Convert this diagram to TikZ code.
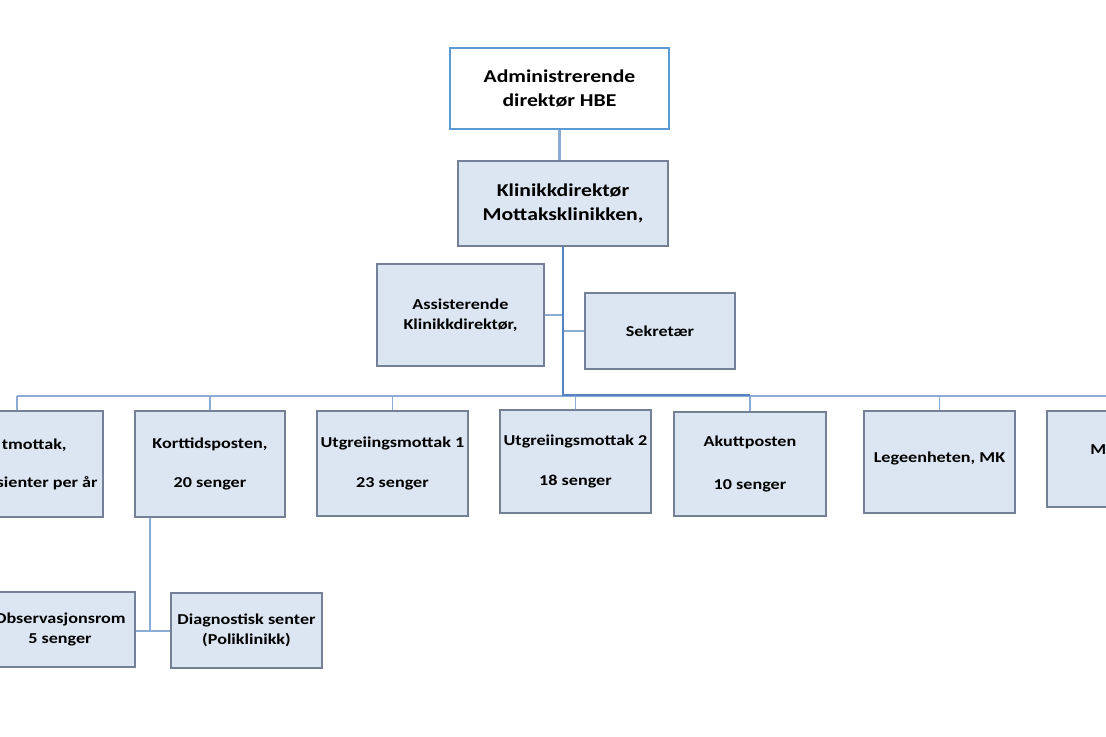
\documentclass[tikz,border=0pt]{standalone}
\usepackage{fontspec}
\usepackage{xcolor}
\usepackage{tikz}
\newfontfamily\orgfont{Carlito}[FakeStretch=1.2]
\newcommand\orgbig{\orgfont\bfseries\fontsize{10.3}{14}\selectfont}
\newcommand\orgsmall{\orgfont\bfseries\fontsize{8.6}{11.3}\selectfont}
\definecolor{boxfill}{RGB}{220,230,242}
\definecolor{boxline}{RGB}{115,128,150}
\definecolor{topline}{RGB}{91,155,213}
\definecolor{linkdark}{RGB}{84,132,196}
\definecolor{linklight}{RGB}{140,172,214}

\begin{document}
\begin{tikzpicture}[x=0.02cm,y=-0.02cm,
    unit/.style 2 args={draw=boxline,fill=boxfill,line width=0.8pt,inner sep=0pt,
      minimum width=#1*0.02cm,minimum height=#2*0.02cm,align=center,font=\orgsmall},
    head/.style={unit={#1}{85},font=\orgbig},
    txt/.style={inner sep=0pt,font=\orgsmall},
    linkthin/.style={draw=linklight,line width=0.8pt},
    linkthick/.style={draw=linkdark,line width=1.6pt},
    linksoft/.style={draw=linklight,line width=1.6pt}]
        \useasboundingbox (0,0) rectangle (1106,737);
        \fill[white] (0,0) rectangle (1106,737);
        \clip (0,0) rectangle (1106,737);
        \node[unit={219}{81},draw=topline,fill=white,line width=1.7pt,font=\orgbig]
          (admin) at (559.5,88.5) {Administrerende\\direktør HBE};
        \node[head=210] (klinikk) at (563,203.5) {Klinikkdirektør\\Mottaksklinikken,};
        \node[unit={167}{102}] (assist) at (460.5,315) {Assisterende\\Klinikkdirektør,};
        \node[unit={150}{76}] (sekr) at (660,331) {Sekretær};
        \node[unit={172}{106}] (akm) at (17,464) {};
        \node[txt,anchor=east] (akmtop) at (67,445) {tmottak,};
        \node[txt,anchor=east] (akmbot) at (98,483) {asienter per år};
        \node[unit={150}{106}] (kort) at (210,464) {Korttidsposten,\\[11pt]20 senger};
        \node[unit={151}{105}] (utg1) at (392.5,463.5) {Utgreiingsmottak 1\\[11pt]23 senger};
        \node[unit={151}{103}] (utg2) at (575.5,461.5) {Utgreiingsmottak 2\\[11pt]18 senger};
        \node[unit={152}{104}] (akutt) at (750,464) {Akuttposten\\[13pt]10 senger};
        \node[unit={151}{102}] (lege) at (939.5,462) {\raisebox{0.2cm}{Legeenheten, MK}};
        \node[unit={151}{96}] (med) at (1122.5,459) {};
        \node[txt,anchor=west] (medtxt) at (1090,450) {M};
        \node[unit={150}{75}] (obs) at (60,629.5) {Observasjonsrom\\5 senger};
        \node[unit={151}{75}] (diag) at (246.5,630.5) {Diagnostisk senter\\(Poliklinikk)};
        \coordinate (bar) at (563,395);
        \coordinate (barl) at (17,396);
        \coordinate (barr) at (1130,396);
        \coordinate (kj) at (150,631);
        \draw[linksoft] (admin.south) -- (admin.south |- klinikk.north);
        \draw[linkthin] (assist.east) -- (assist.east -| bar);
        \draw[linkthin] (sekr.west) -- (sekr.west -| bar);
        \draw[linkthin] (barl) -- (barr);
        \foreach \n in {akm,kort,utg1,utg2,akutt,lege,med}
          \draw[linkthin] (\n.north) -- (\n.north |- barl);
        \draw[linkthick] (klinikk.south) -- (bar) -- (bar -| akutt);
        \draw[linksoft] (kort.south -| kj) -- (kj);
        \draw[linkthin] (obs.east |- kj) -- (diag.west |- kj);
      \end{tikzpicture}
\end{document}
